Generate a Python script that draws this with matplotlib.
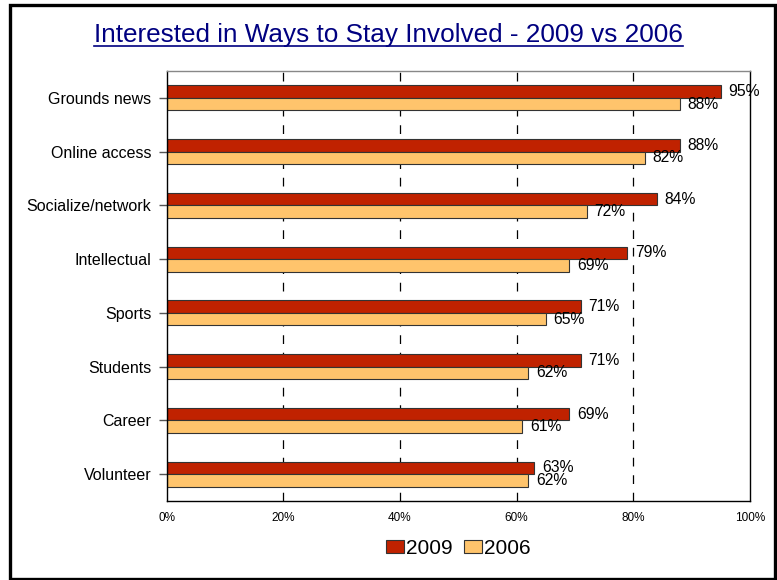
import numpy as np
import matplotlib
matplotlib.use('Agg')
import matplotlib.pyplot as plt
import matplotlib.ticker as ticker
from matplotlib.patches import Rectangle
from matplotlib.lines import Line2D

plt.rcParams['font.family'] = ['Liberation Sans', 'DejaVu Sans']

categories = ['Grounds news', 'Online access', 'Socialize/network', 'Intellectual',
              'Sports', 'Students', 'Career', 'Volunteer']
vals_2009 = [95, 88, 84, 79, 71, 71, 69, 63]
vals_2006 = [88, 82, 72, 69, 65, 62, 61, 62]
series_names = ['2009', '2006']
title = 'Interested in Ways to Stay Involved - 2009 vs 2006'

c2009 = '#C02200'
c2006 = '#FFC46C'

fig = plt.figure(figsize=(7.77, 5.80), dpi=100)
ax = fig.add_axes([0.2145, 0.1362, 0.7507, 0.7414])

y = np.arange(len(categories))
h = 0.233
ax.barh(y - h / 2, vals_2009, height=h, color=c2009, edgecolor='#333333', linewidth=0.8, label=series_names[0])
ax.barh(y + h / 2, vals_2006, height=h, color=c2006, edgecolor='#333333', linewidth=0.8, label=series_names[1])

for yy, v in zip(y - h / 2, vals_2009):
    ax.annotate('%d%%' % v, (v, yy), xytext=(5.5, 0), textcoords='offset points',
                va='center', ha='left', fontsize=11.3)
for yy, v in zip(y + h / 2, vals_2006):
    ax.annotate('%d%%' % v, (v, yy), xytext=(5.5, 0), textcoords='offset points',
                va='center', ha='left', fontsize=11.3)

ax.set_xlim(0, 100)
ax.set_ylim(len(categories) - 0.5, -0.5)
ax.set_yticks(y)
ax.set_yticklabels(categories, fontsize=11.5)
ax.xaxis.set_major_locator(ticker.MultipleLocator(20))
ax.xaxis.set_major_formatter(ticker.FuncFormatter(lambda v, p: '%d%%' % v))
ax.tick_params(axis='x', length=0, pad=8, labelsize=8.5)
ax.tick_params(axis='y', length=6, width=1, color='#555555', pad=5)

for gx in [20, 40, 60, 80]:
    ax.axvline(gx, color='black', linewidth=0.9, linestyle=(0, (7, 7)), zorder=0)

for s in ['left', 'bottom', 'right']:
    ax.spines[s].set_color('black')
    ax.spines[s].set_linewidth(1)
ax.spines['top'].set_color('#888888')
ax.spines['top'].set_linewidth(1)

ax.legend(loc='center', bbox_to_anchor=(0.5, -0.11), ncol=2, frameon=False,
          fontsize=15, handlelength=0.87, handleheight=0.58, handletextpad=0.1,
          columnspacing=0.5, borderaxespad=0)

# title with underline
t = fig.text(0.5, 0.94, title, ha='center', va='center', fontsize=18.8, color='#000080')
fig.canvas.draw()
bb = t.get_window_extent().transformed(fig.transFigure.inverted())
fig.add_artist(Line2D([bb.x0, bb.x1], [bb.y0 + 0.002, bb.y0 + 0.002], color='#000080',
                      linewidth=1.2, transform=fig.transFigure))

# outer frame
fig.add_artist(Rectangle((9.5 / 777, 1.5 / 580), 765.5 / 777, 574 / 580, fill=False,
                         edgecolor='black', linewidth=2.4, transform=fig.transFigure))

plt.savefig('out.png', dpi=100)
